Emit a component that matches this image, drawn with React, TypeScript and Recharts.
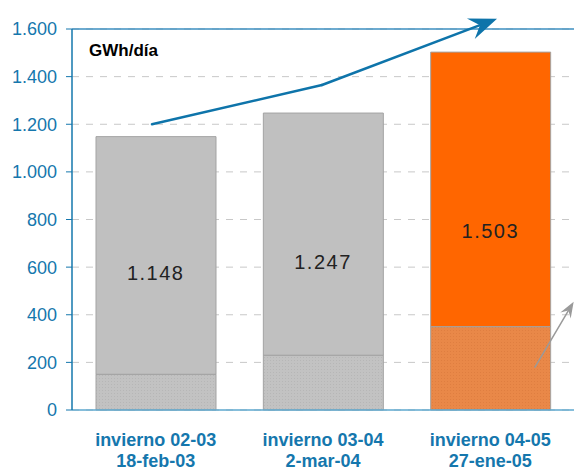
import React from 'react';
import {
  ComposedChart,
  Bar,
  Line,
  XAxis,
  YAxis,
  CartesianGrid,
  ReferenceLine,
  Cell,
} from 'recharts';

const categories = ['invierno 02-03', 'invierno 03-04', 'invierno 04-05'];
const dates = ['18-feb-03', '2-mar-04', '27-ene-05'];
const totals = [1148, 1247, 1503];
const baseValues = [150, 230, 350];
const yTicks = [0, 200, 400, 600, 800, 1000, 1200, 1400, 1600];
const unitLabel = 'GWh/día';

// trend arrow (blue) and small arrow (gray) anchor values, in chart units
const trendPoints = [
  { x: 0.478, y: 1200 },
  { x: 1.494, y: 1365 },
  { x: 2.54, y: 1643 },
];
const grayArrow = [
  { x: 2.767, y: 180 },
  { x: 2.998, y: 455 },
];

const data = categories.map((c, i) => ({
  cat: c,
  pos: i + 0.5,
  date: dates[i],
  base: baseValues[i],
  top: totals[i] - baseValues[i],
  total: totals[i],
  mid: totals[i] / 2,
}));

const BLUE = '#1577ad';
const FONT = '"Liberation Sans", Arial, Helvetica, sans-serif';

const fmt = (v: number) => {
  const s = String(Math.round(v));
  return s.replace(/\B(?=(\d{3})+(?!\d))/g, '.');
};

const makeArrowShape = (color: string, width: number, headLen: number, headW: number, head: boolean) =>
  (props: any) => {
    const { x1, y1, x2, y2 } = props;
    if ([x1, y1, x2, y2].some((v) => typeof v !== 'number' || isNaN(v))) return <g />;
    if (!head) {
      return <line x1={x1} y1={y1} x2={x2} y2={y2} stroke={color} strokeWidth={width} strokeLinecap="round" />;
    }
    const dx = x2 - x1;
    const dy = y2 - y1;
    const len = Math.sqrt(dx * dx + dy * dy) || 1;
    const ux = dx / len;
    const uy = dy / len;
    const nx = -uy;
    const ny = ux;
    const bx = x2 - headLen * ux;
    const by = y2 - headLen * uy;
    const mx = x2 - headLen * 0.65 * ux;
    const my = y2 - headLen * 0.65 * uy;
    const pts = `${x2},${y2} ${bx + headW * nx},${by + headW * ny} ${mx},${my} ${bx - headW * nx},${by - headW * ny}`;
    return (
      <g>
        <line x1={x1} y1={y1} x2={mx} y2={my} stroke={color} strokeWidth={width} strokeLinecap="round" />
        <polygon points={pts} fill={color} />
      </g>
    );
  };

const XTick = (props: any) => {
  const { x, y, payload } = props;
  const i = categories.indexOf(payload.value);
  return (
    <text x={x} textAnchor="middle" fill={BLUE} fontFamily={FONT} fontWeight="bold" fontSize={18}>
      <tspan x={x} y={y + 36}>{payload.value}</tspan>
      <tspan x={x} y={y + 57}>{dates[i]}</tspan>
    </text>
  );
};

const MidLabel = (props: any) => {
  const { cx, cy, payload } = props;
  if (typeof cx !== 'number' || typeof cy !== 'number') return <g />;
  return (
    <text
      x={cx}
      y={cy}
      textAnchor="middle"
      dominantBaseline="central"
      fontFamily={FONT}
      fontSize={20}
      letterSpacing={1.5}
      fill="#222"
    >
      {fmt(payload.total)}
    </text>
  );
};

export default function App() {
  return (
    <div style={{ position: 'absolute', left: 0, top: 0, width: 574, height: 470, background: '#fff' }}>
      <ComposedChart
        width={574}
        height={470}
        data={data}
        margin={{ top: 29, right: 0, left: 0, bottom: 0 }}
        barGap={0}
      >
        <defs>
          <pattern id="grayDots" width="3" height="3" patternUnits="userSpaceOnUse">
            <rect width="3" height="3" fill="#c2c2c2" />
            <rect width="1" height="1" fill="#b6b6b6" />
          </pattern>
          <pattern id="orangeDots" width="3" height="3" patternUnits="userSpaceOnUse">
            <rect width="3" height="3" fill="#e98848" />
            <rect width="1" height="1" fill="#df7e40" />
          </pattern>
        </defs>
        <CartesianGrid vertical={false} stroke="#c8c8c8" strokeDasharray="7 7" />
        <XAxis
          xAxisId="cat"
          dataKey="cat"
          type="category"
          height={60}
          tickLine={false}
          tickSize={0}
          tickMargin={0}
          axisLine={{ stroke: '#5ea8cf', strokeWidth: 1.5 }}
          tick={<XTick />}
          interval={0}
        />
        <XAxis
          xAxisId="num"
          dataKey="pos"
          type="number"
          domain={[0, 3]}
          allowDataOverflow
          hide
        />
        <YAxis
          width={72}
          domain={[0, 1600]}
          ticks={yTicks}
          interval={0}
          tickFormatter={fmt}
          tick={{ fill: BLUE, fontSize: 18, fontFamily: FONT }}
          tickLine={{ stroke: BLUE }}
          tickSize={6}
          tickMargin={9}
          axisLine={{ stroke: BLUE, strokeWidth: 1.5 }}
        />
        <Bar xAxisId="cat" dataKey="base" stackId="s" barSize={120} stroke="#a3a3a3" strokeWidth={1} isAnimationActive={false}>
          {data.map((d, i) => (
            <Cell key={d.cat} fill={i === 2 ? 'url(#orangeDots)' : 'url(#grayDots)'} />
          ))}
        </Bar>
        <Bar xAxisId="cat" dataKey="top" stackId="s" barSize={120} stroke="#a3a3a3" strokeWidth={1} isAnimationActive={false}>
          {data.map((d, i) => (
            <Cell key={d.cat} fill={i === 2 ? '#ff6600' : '#c0c0c0'} />
          ))}
        </Bar>
        <Line
          xAxisId="cat"
          dataKey="mid"
          stroke="none"
          dot={<MidLabel />}
          activeDot={false}
          isAnimationActive={false}
        />
        <ReferenceLine xAxisId="cat" y={1600} stroke="#3d8fc0" strokeWidth={1.5} />
        <ReferenceLine
          xAxisId="num"
          ifOverflow="visible"
          segment={[trendPoints[0], trendPoints[1]]}
          shape={makeArrowShape('#0e74aa', 2.5, 26, 11, false)}
        />
        <ReferenceLine
          xAxisId="num"
          ifOverflow="visible"
          segment={[trendPoints[1], trendPoints[2]]}
          shape={makeArrowShape('#0e74aa', 2.5, 28, 11, true)}
        />
        <ReferenceLine
          xAxisId="num"
          ifOverflow="visible"
          segment={[grayArrow[0], grayArrow[1]]}
          shape={makeArrowShape('#9a9a9a', 1.5, 16, 6, true)}
        />
      </ComposedChart>
      <div
        style={{
          position: 'absolute',
          left: 89,
          top: 41,
          fontFamily: FONT,
          fontWeight: 'bold',
          fontSize: 17,
          color: '#000',
          lineHeight: '20px',
        }}
      >
        {unitLabel}
      </div>
    </div>
  );
}
